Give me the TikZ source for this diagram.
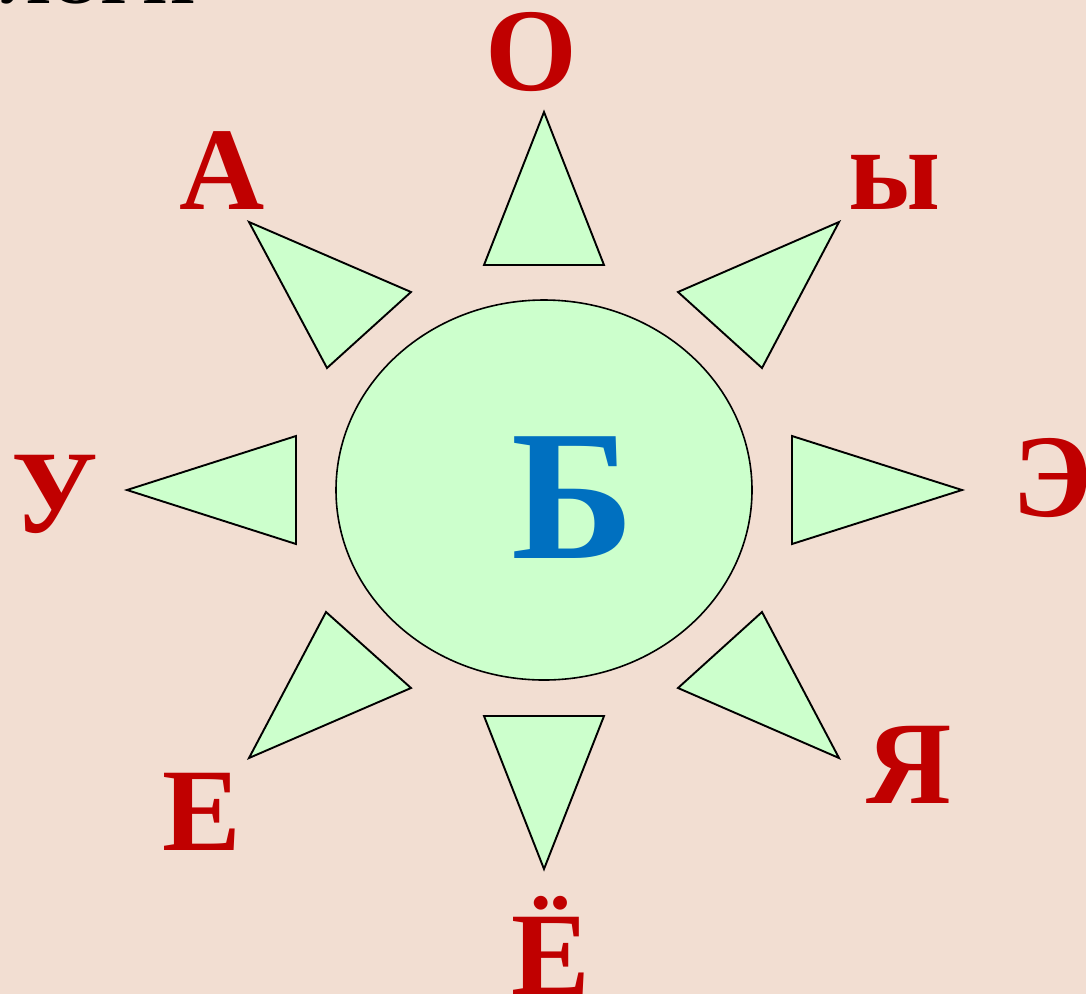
\documentclass[tikz,border=0pt]{standalone}
\usepackage{fontspec}
\setmainfont{Liberation Serif}
\usepackage{tikz}
\usetikzlibrary{shapes.geometric,positioning}
\definecolor{sunpaper}{HTML}{F2DED2}
\definecolor{sungreen}{HTML}{CCFFCC}
\definecolor{sunred}{HTML}{C00000}
\definecolor{sunblue}{HTML}{0070C0}

\begin{document}
\begin{tikzpicture}[
    x=1pt, y=-1pt,
    ray/.style={draw=black, fill=sungreen, line width=1.9pt, line join=miter},
    vowel/.style={inner sep=0pt, anchor=base, text=sunred, font=\bfseries\fontsize{118}{118}\selectfont},
    sun/.style={ellipse, draw=black, fill=sungreen, line width=1.6pt, minimum width=416pt, minimum height=380pt, inner sep=0pt},
]
    \useasboundingbox (0,0) rectangle (1086,994);
    \fill[sunpaper] (0,0) rectangle (1086,994);

    % heading, cut off by the top edge
    \node[inner sep=0pt, anchor=base east, font=\bfseries\fontsize{66}{66}\selectfont] (heading) at (195,3) {СЛОГИ};

    \node[sun] (core) at (544,490) {};
    \node[inner sep=0pt, anchor=base, text=sunblue, font=\bfseries\fontsize{186}{186}\selectfont] (consonant) at (573,558) {Б};

    % rays
    \draw[ray] (544,112) -- (604,265) -- (484,265) -- cycle;
    \draw[ray] (839,222) -- (762,368) -- (678,292) -- cycle;
    \draw[ray] (962,490) -- (792,544) -- (792,436) -- cycle;
    \draw[ray] (839,758) -- (678,688) -- (762,612) -- cycle;
    \draw[ray] (544,869) -- (484,716) -- (604,716) -- cycle;
    \draw[ray] (249,758) -- (326,612) -- (411,688) -- cycle;
    \draw[ray] (127,490) -- (296,436) -- (296,544) -- cycle;
    \draw[ray] (249,222) -- (411,292) -- (327,368) -- cycle;

    % vowels round the sun
    \node[vowel] (o) at (531,90) {О};
    \node[vowel] (y) at (895,209) {ы};
    \node[vowel] (e) at (1052,516) {Э};
    \node[vowel] (ya) at (909,803) {Я};
    \node[vowel] (yo) at (551,994) {Ё};
    \node[vowel] (ye) at (202,850) {Е};
    \node[vowel] (u) at (55,532) {У};
    \node[vowel] (a) at (222,209) {А};
\end{tikzpicture}
\end{document}
